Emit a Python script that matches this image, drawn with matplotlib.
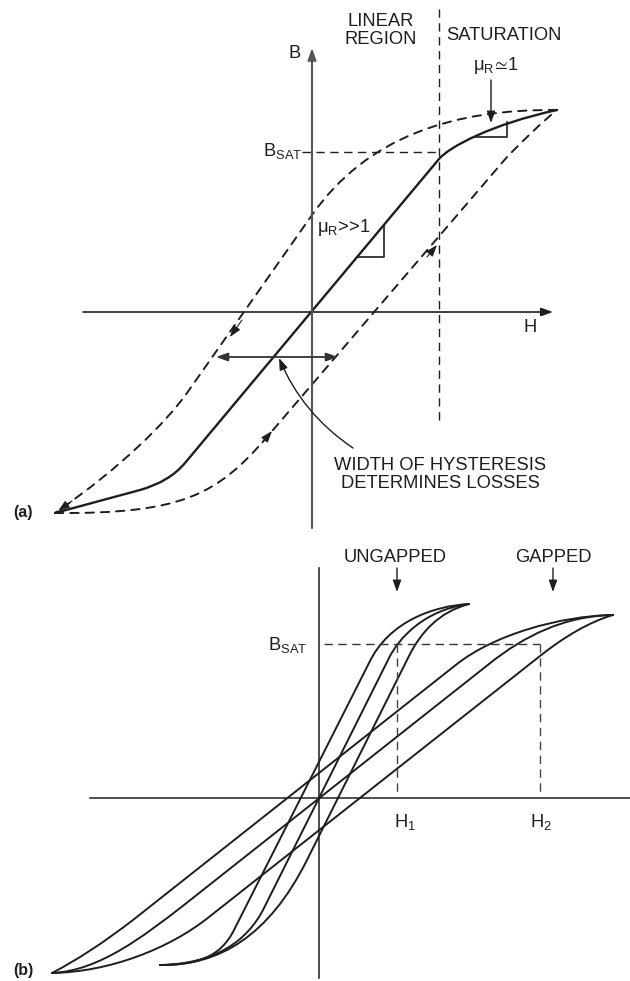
import matplotlib
matplotlib.use('Agg')
import matplotlib.pyplot as plt
from matplotlib.path import Path
from matplotlib.patches import PathPatch

plt.rcParams['font.family'] = ['Liberation Sans', 'DejaVu Sans']
plt.rcParams['mathtext.fontset'] = 'custom'
plt.rcParams['mathtext.rm'] = 'Liberation Sans'
plt.rcParams['mathtext.it'] = 'Liberation Sans:italic'
plt.rcParams['mathtext.fallback'] = 'stixsans'
plt.rcParams['lines.scale_dashes'] = False

INK = '#1e1e1e'
FS = 13.2

# ---- panel (a): curve control points (H, B), codes M=move L=line Q=quad C=cubic
a_solid = [(-2.57, -2.01), (-1.72, -1.78), (-1.43, -1.70), (-1.27, -1.51),
           (1.27, 1.53), (1.37, 1.65), (1.80, 1.88), (2.45, 2.02)]
a_solid_codes = 'MLQQLCCC'
a_up = [(-2.57, -2.01), (-1.30, -2.02), (-0.95, -1.83), (-0.45, -1.25),
        (1.95, 1.55), (2.25, 1.86), (2.45, 2.02)]
a_up_codes = 'MCCCLQQ'
a_down = [(2.45, 2.02), (1.40, 2.03), (0.55, 1.75), (0.0, 0.97),
          (-1.25, -0.81), (-1.45, -1.09), (-1.90, -1.55), (-2.57, -2.01)]
a_down_codes = 'MCCCLCCC'
a_heads = [((-0.70, -0.08), (-0.82, -0.25)), ((-0.50, -1.31), (-0.40, -1.19)),
           ((1.15, 0.55), (1.25, 0.67)), ((-2.40, -1.89), (-2.54, -1.99))]
a_tri_lin = [(0.45, 0.55), (0.72, 0.55), (0.72, 0.86)]
a_tri_sat = [(1.62, 1.75), (1.95, 1.75), (1.95, 1.90)]
a_bsat = 1.60
a_hsat = 1.27
a_width = (-0.96, 0.26, -0.45)

# ---- panel (b)
g_desc = [(2.94, 1.83), (2.40, 1.82), (1.75, 1.63), (1.38, 1.34),
          (-1.86, -1.22), (-2.30, -1.56), (-2.67, -1.75)]
g_desc_codes = 'MCCCLQQ'
g_mid = [(-2.67, -1.75), (-2.20, -1.73), (-1.75, -1.38), (-1.35, -1.07),
         (1.70, 1.34), (2.05, 1.62), (2.45, 1.82), (2.94, 1.83)]
g_mid_codes = 'MCCCLCCC'
g_asc = [(-2.67, -1.75), (-2.10, -1.74), (-1.50, -1.51), (-1.10, -1.19),
         (2.21, 1.42), (2.45, 1.61), (2.70, 1.76), (2.94, 1.83)]
g_asc_codes = 'MCCCLCCC'
u_desc = [(1.50, 1.94), (1.15, 1.92), (0.70, 1.77), (0.50, 1.35),
          (-0.85, -1.32), (-0.98, -1.58), (-1.20, -1.67), (-1.59, -1.67)]
u_desc_codes = 'MCCCLCCC'
u_mid = [(-1.59, -1.67), (-1.05, -1.66), (-0.72, -1.44), (-0.55, -1.10),
         (0.70, 1.40), (0.80, 1.60), (1.05, 1.88), (1.50, 1.94)]
u_mid_codes = 'MCCCLCCC'
u_asc = [(-1.59, -1.67), (-1.00, -1.68), (-0.50, -1.38), (-0.12, -0.62),
         (0.90, 1.42), (1.02, 1.66), (1.20, 1.86), (1.50, 1.94)]
u_asc_codes = 'MCCCLCCC'
b_bsat = 1.54
b_h1 = 0.78
b_h2 = 2.21

CODES = {'M': Path.MOVETO, 'L': Path.LINETO, 'Q': Path.CURVE3, 'C': Path.CURVE4}


def curve(ax, pts, codes, **kw):
    p = Path(pts, [CODES[c] for c in codes])
    ax.add_patch(PathPatch(p, fill=False, capstyle='round', joinstyle='round', **kw))


def arrow(ax, tail, tip, color=INK, lw=1.2, style='-|>,head_length=0.7,head_width=0.25', **kw):
    ax.annotate('', xy=tip, xytext=tail,
                arrowprops=dict(arrowstyle=style, color=color, lw=lw,
                                shrinkA=0, shrinkB=0, **kw))


fig = plt.figure(figsize=(6.3, 9.81), dpi=100)
ax_a = fig.add_axes([0, 446 / 981, 1, 535 / 981])
ax_b = fig.add_axes([0, 0, 1, 446 / 981])
ax_a.set_xlim(-3.12, 3.18)
ax_a.set_ylim(-2.23, 3.12)
ax_b.set_xlim(-3.19, 3.11)
ax_b.set_ylim(-1.83, 2.63)
for ax in (ax_a, ax_b):
    ax.axis('off')

# ================= (a)
arrow(ax_a, (-2.29, 0), (2.41, 0), lw=1.2)
arrow(ax_a, (0, -2.16), (0, 2.64), color='#555555', lw=1.5)
ax_a.plot([a_hsat, a_hsat], [-1.08, 3.07], color=INK, lw=1.0, dashes=(6, 4))
ax_a.plot([-0.10, a_hsat], [a_bsat, a_bsat], color=INK, lw=1.0, dashes=(6, 4))

curve(ax_a, a_solid, a_solid_codes, color=INK, lw=1.7)
curve(ax_a, a_up, a_up_codes, color=INK, lw=1.4, linestyle=(0, (6, 5)))
curve(ax_a, a_down, a_down_codes, color=INK, lw=1.4, linestyle=(0, (6, 5)))
for tail, tip in a_heads:
    arrow(ax_a, tail, tip, lw=0.8)

ax_a.plot(*zip(*a_tri_lin), color=INK, lw=1.2)
ax_a.plot(*zip(*a_tri_sat), color=INK, lw=1.2)

arrow(ax_a, (a_width[0], a_width[2]), (a_width[1], a_width[2]), color='#333333', lw=1.3,
      style='<|-|>,head_length=0.7,head_width=0.25')
arrow(ax_a, (0.41, -1.36), (-0.33, -0.46), lw=1.0, connectionstyle='arc3,rad=-0.15')
arrow(ax_a, (1.79, 2.32), (1.79, 1.89), lw=1.0)

tk = dict(color=INK, fontsize=FS)
ax_a.text(0.69, 2.90, 'LINEAR', ha='center', va='center', **tk)
ax_a.text(0.69, 2.72, 'REGION', ha='center', va='center', **tk)
ax_a.text(1.92, 2.76, 'SATURATION', ha='center', va='center', **tk)
ax_a.text(-0.17, 2.59, 'B', ha='center', va='center', **tk)
ax_a.text(-0.10, 1.56, r'B$_\mathrm{SAT}$', ha='right', va='baseline', **tk)
ax_a.text(2.18, -0.16, 'H', ha='center', va='center', **tk)
ax_a.text(1.61, 2.42, r'$\mathrm{μ_R\!\simeq\!1}$', ha='left', va='baseline', **tk)
ax_a.text(0.05, 0.80, r'$\mathrm{μ_R}$>>1', ha='left', va='baseline', **tk)
ax_a.text(1.28, -1.54, 'WIDTH OF HYSTERESIS', ha='center', va='center', **tk)
ax_a.text(1.28, -1.71, 'DETERMINES LOSSES', ha='center', va='center', **tk)
ax_a.text(-2.99, -2.00, '(a)', ha='left', va='center', color=INK, fontsize=11.5,
          fontweight='bold')

# ================= (b)
ax_b.plot([-2.29, 3.11], [0, 0], color=INK, lw=1.1)
ax_b.plot([0, 0], [-1.80, 2.30], color=INK, lw=1.1)
ax_b.plot([0.05, b_h2], [b_bsat, b_bsat], color='#333333', lw=1.0, dashes=(6, 4))
ax_b.plot([b_h1, b_h1], [b_bsat, 0.05], color='#444444', lw=1.0, dashes=(6, 4))
ax_b.plot([b_h2, b_h2], [b_bsat, 0.0], color='#444444', lw=1.0, dashes=(6, 4))

for pts, codes in [(g_desc, g_desc_codes), (g_mid, g_mid_codes), (g_asc, g_asc_codes),
                   (u_desc, u_desc_codes), (u_mid, u_mid_codes), (u_asc, u_asc_codes)]:
    curve(ax_b, pts, codes, color=INK, lw=1.4)

ax_b.text(-0.12, 1.48, r'B$_\mathrm{SAT}$', ha='right', va='baseline', **tk)
ax_b.text(0.75, -0.29, r'H$_1$', ha='left', va='baseline', **tk)
ax_b.text(2.11, -0.29, r'H$_2$', ha='left', va='baseline', **tk)
ax_b.text(0.76, 2.41, 'UNGAPPED', ha='center', va='center', **tk)
ax_b.text(2.34, 2.41, 'GAPPED', ha='center', va='center', **tk)
arrow(ax_b, (0.78, 2.30), (0.78, 2.06), lw=1.0)
arrow(ax_b, (2.34, 2.30), (2.34, 2.06), lw=1.0)
ax_b.text(-3.06, -1.72, '(b)', ha='left', va='center', color=INK, fontsize=11.5,
          fontweight='bold')

fig.savefig('out.png', dpi=100, facecolor='white')
